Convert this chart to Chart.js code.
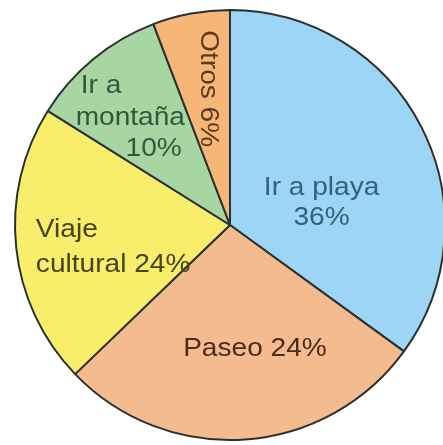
<!DOCTYPE html>
<html>
<head>
<meta charset="utf-8">
<script src="https://cdn.jsdelivr.net/npm/chart.js@4.4.0/dist/chart.umd.min.js"></script>
<style>
  html, body { margin: 0; padding: 0; background: #fff; overflow: hidden; }
  #wrap { width: 446px; height: 445px; }
</style>
</head>
<body>
<div id="wrap"><canvas id="pie" width="446" height="445"></canvas></div>
<script>
const categories = ['Ir a playa', 'Paseo', 'Viaje cultural', 'Ir a montaña', 'Otros'];
const values = [35, 27.8, 21.1, 10.3, 5.8];
const printedLabels = [
  ['Ir a playa', '36%'],
  ['Paseo 24%'],
  ['Viaje', 'cultural 24%'],
  ['Ir a', 'montaña', '10%'],
  ['Otros 6%']
];
const colors = ['#9dd5f6', '#f4bb8f', '#f8ee6c', '#a8d6a3', '#f6b677'];
const textColors = ['#34607c', '#4a2c1c', '#45441c', '#2e5a3c', '#5c3a1c'];

// Label placement, as fractions of the radius from the pie centre
const labelLayout = [
  { align: 'center', rot: 0, lines: [[0.426, -0.171], [0.426, -0.032]] },
  { align: 'center', rot: 0, lines: [[0.116, 0.578]] },
  { align: 'left', rot: 0, lines: [[-0.903, 0.023], [-0.903, 0.185]] },
  { align: 'left', rot: 0, lines: [[-0.694, -0.648], [-0.718, -0.500], [-0.486, -0.356]] },
  { align: 'center', rot: Math.PI / 2, lines: [[-0.102, -0.634]] }
];

const pieLabels = {
  id: 'pieLabels',
  afterDatasetsDraw(chart) {
    const ctx = chart.ctx;
    const arc = chart.getDatasetMeta(0).data[0];
    const cx = arc.x, cy = arc.y, r = arc.outerRadius;
    ctx.save();
    ctx.font = '26px "Liberation Sans", Arial, sans-serif';
    ctx.textBaseline = 'middle';
    printedLabels.forEach((lines, i) => {
      const lay = labelLayout[i];
      ctx.fillStyle = textColors[i];
      ctx.textAlign = lay.align;
      lines.forEach((txt, j) => {
        const [fx, fy] = lay.lines[j];
        ctx.save();
        ctx.translate(cx + fx * r, cy + fy * r);
        ctx.rotate(lay.rot);
        ctx.scale(1.08, 1); // the printed lettering is a little wide
        ctx.fillText(txt, 0, 0);
        ctx.restore();
      });
    });
    ctx.restore();
  }
};

new Chart(document.getElementById('pie'), {
  type: 'pie',
  data: {
    labels: categories,
    datasets: [{
      data: values,
      backgroundColor: colors,
      borderColor: '#2b3130',
      borderWidth: 2,
      borderAlign: 'center'
    }]
  },
  options: {
    responsive: false,
    animation: false,
    rotation: 0,
    layout: { padding: { left: 14, right: 0, top: 9, bottom: 4 } },
    plugins: {
      legend: { display: false },
      tooltip: { enabled: false }
    }
  },
  plugins: [pieLabels]
});
</script>
</body>
</html>
